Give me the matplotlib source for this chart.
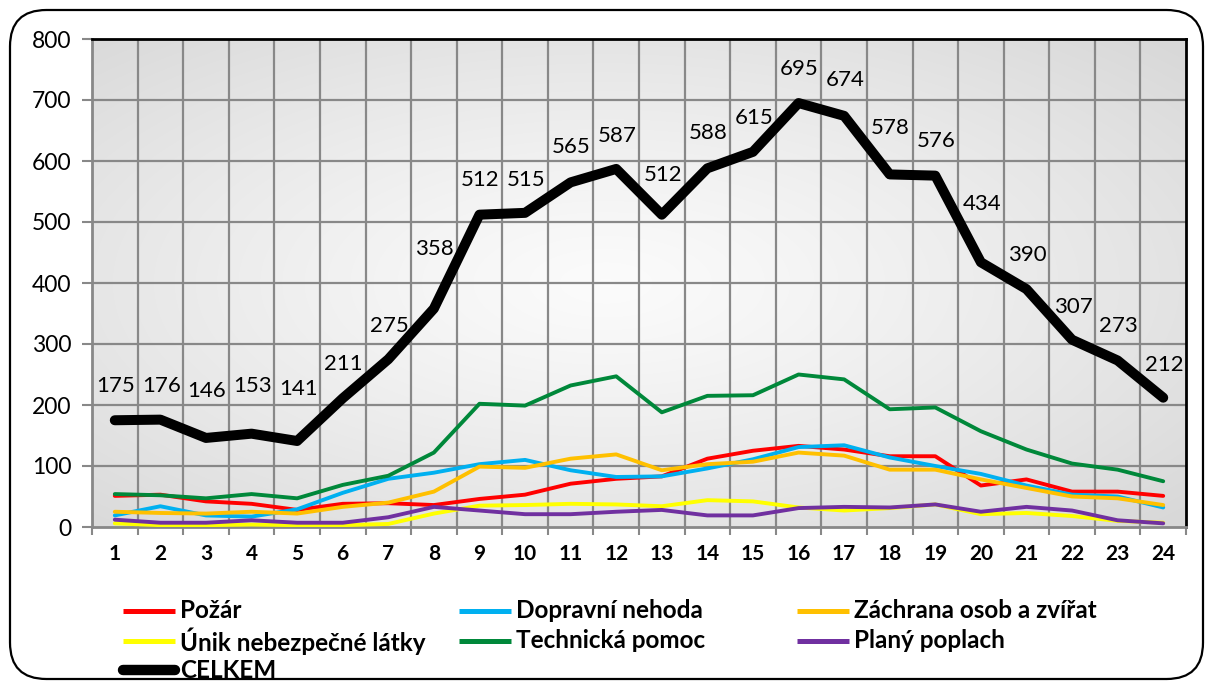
import numpy as np
import matplotlib
matplotlib.use("Agg")
import matplotlib.pyplot as plt
from matplotlib.lines import Line2D
from matplotlib.patches import FancyBboxPatch

plt.rcParams['font.family'] = ['Lato', 'DejaVu Sans']

hours = list(range(1, 25))
hour_labels = [str(h) for h in hours]

pozar = [51, 53, 42, 38, 28, 38, 39, 36, 46, 53, 71, 79, 83, 112, 125, 133, 127, 116, 116, 68, 78, 58, 58, 51]
doprava = [19, 34, 19, 17, 29, 56, 79, 89, 103, 110, 93, 82, 83, 96, 111, 131, 134, 114, 100, 87, 68, 53, 50, 32]
zachrana = [25, 23, 22, 25, 22, 33, 40, 58, 99, 97, 112, 119, 93, 103, 107, 122, 117, 94, 94, 78, 64, 50, 47, 36]
unik = [6, 3, 3, 4, 3, 3, 5, 22, 35, 36, 38, 37, 34, 44, 42, 32, 27, 31, 37, 21, 23, 18, 10, 7]
technicka = [54, 52, 47, 54, 47, 69, 84, 122, 202, 199, 232, 247, 188, 215, 216, 250, 242, 193, 196, 157, 127, 104, 94, 75]
plany = [12, 7, 7, 11, 7, 7, 16, 33, 27, 21, 21, 25, 28, 19, 19, 31, 33, 32, 37, 25, 33, 27, 11, 6]
celkem = [175, 176, 146, 153, 141, 211, 275, 358, 512, 515, 565, 587, 512, 588, 615, 695, 674, 578, 576, 434, 390, 307, 273, 212]

series_names = ['Požár', 'Dopravní nehoda', 'Záchrana osob a zvířat',
                'Únik nebezpečné látky', 'Technická pomoc', 'Planý poplach', 'CELKEM']

# label offsets in pixels (layout only)
label_dy = [34, 34, 47, 48, 52, 34, 33, 60, 35, 33, 35, 33, 40, 35, 34, 34, 36, 46, 35, 58, 34, 33, 34, 33]

W, H = 1215, 682
fig = plt.figure(figsize=(W / 100, H / 100), dpi=100)
fig.patch.set_facecolor('white')

# outer rounded border
border = FancyBboxPatch((10 / W, 3 / H), (1203 / W) - (10 / W), (672 - 3) / H,
                        boxstyle="round,pad=0,rounding_size=0.03",
                        transform=fig.transFigure, fill=False, edgecolor='black',
                        linewidth=1.6, mutation_aspect=W / H)
fig.add_artist(border)

ax_l, ax_r, ax_t, ax_b = 92, 1186, 39, 527
ax = fig.add_axes([ax_l / W, (H - ax_b) / H, (ax_r - ax_l) / W, (ax_b - ax_t) / H])

# radial gradient background
ny, nx = 300, 600
yy, xx = np.mgrid[0:1:ny * 1j, 0:1:nx * 1j]
d = np.sqrt(((xx - 0.47) / 0.75) ** 2 + ((yy - 0.5) / 0.75) ** 2)
d = np.clip(d / 0.94, 0, 1)
c_in, c_out = 0.985, 0.85
img = c_in + (c_out - c_in) * d ** 1.2
ax.imshow(np.dstack([img, img, img]), extent=[0, 1, 0, 1], transform=ax.transAxes,
          origin='lower', aspect='auto', zorder=0, interpolation='bilinear')

ax.set_xlim(0.5, 24.5)
ax.set_ylim(0, 800)

grid_c = '#888888'
for xb in np.arange(1.5, 24.5, 1.0):
    ax.axvline(xb, color=grid_c, lw=1.6, zorder=1)
for yv in range(100, 800, 100):
    ax.axhline(yv, color=grid_c, lw=1.6, zorder=1)

colors = ['#FF0000', '#00B0F0', '#FFC000', '#FFFF00', '#00883A', '#7030A0', '#000000']
data = [pozar, doprava, zachrana, unik, technicka, plany]
for vals, col in zip(data, colors[:6]):
    ax.plot(hours, vals, color=col, lw=2.8, solid_joinstyle='round', solid_capstyle='round', zorder=3)
ax.plot(hours, celkem, color='black', lw=7.2, solid_joinstyle='round', solid_capstyle='round', zorder=4)

for h, v, dy in zip(hours, celkem, label_dy):
    ax.annotate(str(v), (h, v), xytext=(1, dy), textcoords='offset pixels',
                ha='center', va='center', fontsize=16, color='black', zorder=5)

ax.set_yticks(range(0, 801, 100))
ax.set_yticklabels([str(v) for v in range(0, 801, 100)], fontsize=16.5)
ax.set_xticks(hours)
ax.set_xticklabels(hour_labels, fontsize=15, fontweight='bold')
ax.tick_params(axis='x', length=0, pad=12)
ax.tick_params(axis='y', length=7, width=1.5, color=grid_c, pad=8)
# boundary ticks on x axis
ax.set_xticks(np.arange(0.5, 25, 1.0), minor=True)
ax.tick_params(axis='x', which='minor', length=6, width=1.5, color=grid_c)

for s in ['left', 'bottom']:
    ax.spines[s].set_color(grid_c)
    ax.spines[s].set_linewidth(2)
for s in ['top', 'right']:
    ax.spines[s].set_color('black')
    ax.spines[s].set_linewidth(2)

# legend drawn manually in figure pixel coordinates
legend_pos = [(123, 611), (459, 611), (797, 611),
              (123, 641), (459, 641), (797, 641),
              (123, 670)]
for name, col, (px, py) in zip(series_names, colors, legend_pos):
    lw = 7.5 if name == 'CELKEM' else 3.6
    fig.add_artist(Line2D([px / W, (px + 52) / W], [(H - py) / H, (H - py) / H],
                          transform=fig.transFigure, color=col, lw=lw,
                          solid_capstyle='round' if name == 'CELKEM' else 'butt'))
    fig.text((px + 57) / W, (H - py) / H, name, fontsize=17.5, fontweight='bold',
             ha='left', va='center')

fig.savefig('out.png', dpi=100)
